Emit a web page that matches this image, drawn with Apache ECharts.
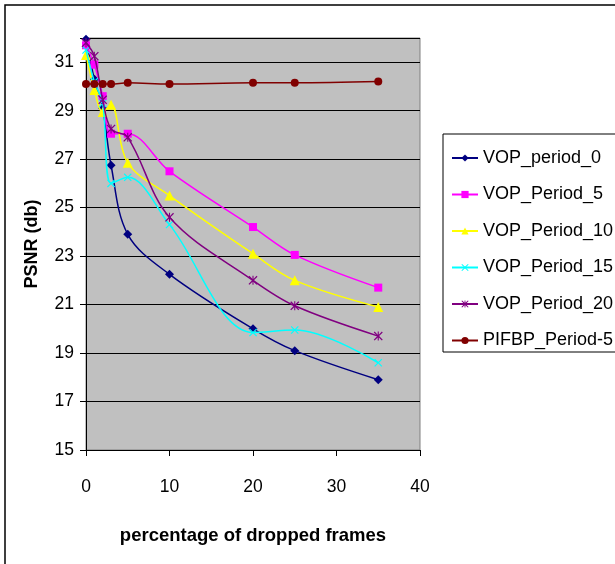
<!DOCTYPE html>
<html>
<head>
<meta charset="utf-8">
<script src="https://cdn.jsdelivr.net/npm/echarts@6/dist/echarts.min.js"></script>
<style>html,body{margin:0;padding:0;background:#fff;}#c{width:615px;height:564px;}</style>
</head>
<body>
<div id="c"></div>
<script>
var xValues = [0, 1, 2, 3, 5, 10, 20, 25, 35];
var seriesNames = ['VOP_period_0', 'VOP_Period_5', 'VOP_Period_10', 'VOP_Period_15', 'VOP_Period_20', 'PIFBP_Period-5'];
var vopPeriod0  = [31.95, 30.3, 29.1, 26.75, 23.9, 22.25, 20.0, 19.1, 17.9];
var vopPeriod5  = [31.7, 30.9, 29.6, 28.05, 28.05, 26.5, 24.2, 23.05, 21.7];
var vopPeriod10 = [31.3, 29.85, 28.95, 29.25, 26.85, 25.5, 23.1, 22.0, 20.9];
var vopPeriod15 = [31.5, 30.2, 29.3, 26.0, 26.25, 24.3, 19.85, 19.95, 18.6];
var vopPeriod20 = [31.8, 31.25, 29.45, 28.25, 27.9, 24.6, 22.0, 20.95, 19.7];
var pifbpPeriod5 = [30.1, 30.1, 30.1, 30.1, 30.15, 30.1, 30.15, 30.15, 30.2];
var yTicks = [15, 17, 19, 21, 23, 25, 27, 29, 31];
var xTicks = [0, 10, 20, 30, 40];

var allValues = [vopPeriod0, vopPeriod5, vopPeriod10, vopPeriod15, vopPeriod20, pifbpPeriod5];
var colors = ['#000080', '#FF00FF', '#FFFF00', '#00FFFF', '#800080', '#800000'];
var xPath = 'path://M0,1 L1,0 L5,4 L9,0 L10,1 L6,5 L10,9 L9,10 L5,6 L1,10 L0,9 L4,5 Z';
var starPath = 'path://M0,1 L1,0 L4.4,3.4 L4.4,0 L5.6,0 L5.6,3.4 L9,0 L10,1 L6,5 L10,9 L9,10 L5.6,6.6 L5.6,10 L4.4,10 L4.4,6.6 L1,10 L0,9 L4,5 Z';
var symbols = ['diamond', 'rect', 'triangle', xPath, starPath, 'circle'];
var sizes = [9, 8, 10, 8, 9, 8];
var FONT = '"Liberation Sans", Arial, sans-serif';

function pairs(vals) { return xValues.map(function (x, i) { return [x, vals[i]]; }); }

var series = allValues.map(function (vals, i) {
  return {
    name: seriesNames[i],
    type: 'line',
    data: pairs(vals),
    smooth: 0.35,
    symbol: symbols[i],
    symbolSize: sizes[i],
    showAllSymbol: true,
    lineStyle: { color: colors[i], width: 1.5 },
    itemStyle: { color: colors[i] },
    z: 3 + i
  };
});

var chart = echarts.init(document.getElementById('c'));
chart.setOption({
  animation: false,
  backgroundColor: '#ffffff',
  textStyle: { fontFamily: FONT },
  graphic: [
    { type: 'rect', shape: { x: 5, y: 5, width: 700, height: 700 }, style: { fill: 'none', stroke: '#000', lineWidth: 1.5 }, z: -10 },
    { type: 'rect', shape: { x: 443, y: 134, width: 300, height: 218 }, style: { fill: '#fff', stroke: '#000', lineWidth: 1 }, z: 0 }
  ],
  grid: { left: 86, right: 195, top: 38, bottom: 114, show: true, backgroundColor: '#C0C0C0', borderColor: '#808080', borderWidth: 1 },
  legend: {
    orient: 'vertical',
    left: 446,
    top: 143,
    itemWidth: 26,
    itemHeight: 9,
    itemGap: 16.5,
    z: 10,
    textStyle: { fontSize: 18, lineHeight: 20, color: '#000', fontFamily: FONT },
    data: seriesNames
  },
  xAxis: {
    type: 'value',
    min: xTicks[0],
    max: xTicks[xTicks.length - 1],
    interval: 10,
    name: 'percentage of dropped frames',
    nameLocation: 'middle',
    nameGap: 76,
    nameTextStyle: { fontSize: 18.5, fontWeight: 'bold', color: '#000', fontFamily: FONT },
    axisLine: { onZero: false, lineStyle: { color: '#000', width: 1 } },
    axisTick: { show: true, inside: false, length: 6, lineStyle: { color: '#000' } },
    axisLabel: { fontSize: 17.5, color: '#000', margin: 28, fontFamily: FONT },
    splitLine: { show: false }
  },
  yAxis: {
    type: 'value',
    min: yTicks[0],
    max: 32,
    interval: 2,
    name: 'PSNR (db)',
    nameLocation: 'middle',
    nameGap: 45,
    nameTextStyle: { fontSize: 18, fontWeight: 'bold', color: '#000', fontFamily: FONT },
    axisLine: { show: true, onZero: false, lineStyle: { color: '#000', width: 1 } },
    axisTick: { show: true, inside: false, length: 6, lineStyle: { color: '#000' } },
    axisLabel: {
      fontSize: 17.5, color: '#000', margin: 12, fontFamily: FONT,
      formatter: function (v) { return yTicks.indexOf(v) >= 0 ? String(v) : ''; }
    },
    splitLine: { show: true, lineStyle: { color: '#000', width: 1 } }
  },
  series: series
});
</script>
</body>
</html>
